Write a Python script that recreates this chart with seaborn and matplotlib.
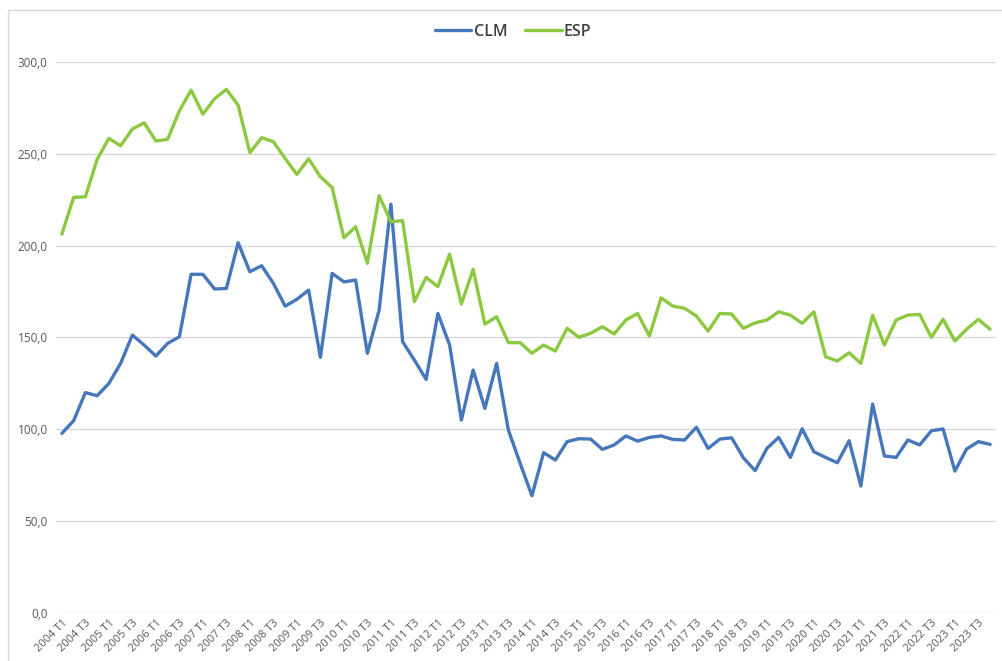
import numpy as np
import pandas as pd
import matplotlib
matplotlib.use("Agg")
import matplotlib.pyplot as plt
from matplotlib.patches import Rectangle
from matplotlib.ticker import FuncFormatter
import seaborn as sns

# -------------------------
# Data
# -------------------------
years = list(range(2004, 2024))
quarters = [f"{y} T{q}" for y in years for q in range(1, 5)]

clm = [97.8, 104.7, 120.0, 118.3, 125.0, 135.9, 151.3, 145.9, 139.9, 146.8,
       150.4, 184.4, 184.4, 176.4, 176.7, 201.6, 185.8, 189.1, 179.5, 167.1,
       170.8, 175.8, 139.2, 184.9, 180.3, 181.3, 141.4, 164.9, 222.6, 147.7,
       137.7, 127.2, 163.1, 145.9, 105.0, 132.3, 111.4, 135.9, 99.6, 81.5,
       63.9, 87.3, 83.3, 93.3, 94.9, 94.7, 89.1, 91.5, 96.4, 93.6,
       95.6, 96.4, 94.5, 94.2, 101.1, 89.6, 94.7, 95.4, 84.5, 77.5,
       89.6, 95.6, 84.7, 100.3, 87.8, 84.7, 81.8, 93.8, 69.1, 113.8,
       85.5, 84.7, 94.2, 91.5, 99.2, 100.2, 77.3, 89.3, 93.3, 91.8]

esp = [206.3, 226.3, 226.6, 247.0, 258.4, 254.4, 263.5, 266.9, 257.0, 257.9,
       273.4, 284.7, 271.6, 280.0, 285.1, 276.5, 250.6, 258.8, 256.6, 247.5,
       238.8, 247.3, 237.5, 231.7, 204.3, 210.3, 190.4, 227.2, 213.0, 213.6,
       169.5, 182.7, 177.7, 195.4, 168.2, 187.1, 157.3, 161.3, 147.2, 147.2,
       141.4, 145.9, 142.6, 155.0, 150.1, 152.3, 155.9, 151.9, 159.5, 163.1,
       150.8, 171.6, 167.1, 165.9, 161.7, 153.5, 163.1, 162.8, 155.0, 158.0,
       159.5, 164.0, 162.2, 157.7, 164.0, 139.5, 137.2, 141.7, 135.9, 162.2,
       145.9, 159.5, 162.2, 162.6, 150.1, 159.9, 148.1, 154.5, 159.9, 154.5]

series_names = ["CLM", "ESP"]
palette = {"CLM": "#4677BA", "ESP": "#8CC940"}

df = pd.DataFrame({
    "idx": list(range(len(quarters))) * 2,
    "valor": clm + esp,
    "serie": ["CLM"] * len(clm) + ["ESP"] * len(esp),
})

# -------------------------
# Plot
# -------------------------
sns.set_theme(style="white")
plt.rcParams["font.family"] = ["Open Sans", "DejaVu Sans"]

fig = plt.figure(figsize=(10.02, 6.61), dpi=100)
ax = fig.add_axes([56 / 1002, 1 - 613 / 661, 940 / 1002, 551 / 661])

sns.lineplot(data=df, x="idx", y="valor", hue="serie", hue_order=series_names,
             palette=palette, linewidth=2.4, ax=ax, legend=True)

ax.set_xlim(-0.5, len(quarters) - 0.5)
ax.set_ylim(0, 300)
ax.set_yticks(range(0, 301, 50))
ax.yaxis.set_major_formatter(FuncFormatter(lambda v, p: f"{v:.1f}".replace(".", ",")))
ax.set_xticks(range(0, len(quarters), 2))
ax.set_xticklabels(quarters[::2], rotation=45, ha="right", rotation_mode="anchor",
                   fontsize=8, color="#595959")
ax.tick_params(axis="y", labelsize=8.5, colors="#595959", length=0, pad=6)
ax.tick_params(axis="x", length=0, pad=3)
ax.grid(axis="y", color="#D9D9D9", linewidth=1)
ax.set_axisbelow(True)
for s in ax.spines.values():
    s.set_visible(False)
ax.set_xlabel("")
ax.set_ylabel("")

leg = ax.legend(loc="center", bbox_to_anchor=(513 / 1002, (661 - 32) / 661),
                bbox_transform=fig.transFigure, ncol=2, frameon=False,
                handlelength=2.3, columnspacing=1.1, handletextpad=0.15,
                prop={"size": 11.5, "weight": "semibold"})
for t in leg.get_texts():
    t.set_color("#404040")

# chart border
fig.patches.append(Rectangle((8 / 1002, -0.01), 1.0, (661 - 10) / 661 + 0.01,
                             transform=fig.transFigure, fill=False,
                             edgecolor="#D9D9D9", linewidth=1))

fig.savefig("out.png", dpi=100)
